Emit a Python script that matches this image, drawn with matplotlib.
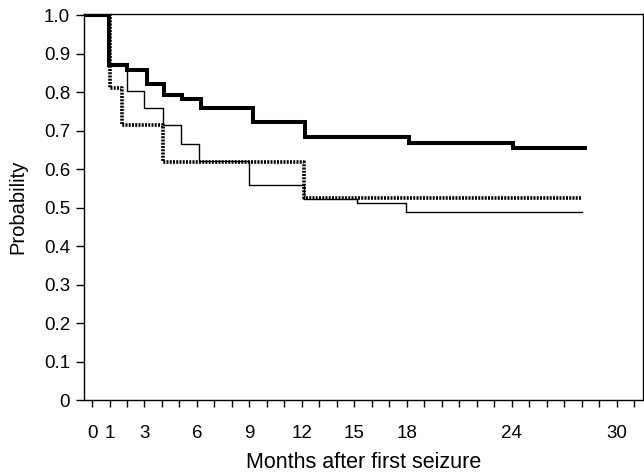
import numpy as np
import matplotlib
matplotlib.use('Agg')
import matplotlib.pyplot as plt

plt.rcParams['font.family'] = ['Liberation Sans', 'DejaVu Sans']

# Kaplan-Meier style curves (months, probability)
thick_t = [-0.36, 0.99, 1.98, 3.13, 4.11, 5.13, 6.23, 9.22, 12.17, 18.13, 24.07, 28.17]
thick_p = [1.0, 0.871, 0.857, 0.822, 0.792, 0.781, 0.759, 0.723, 0.684, 0.668, 0.654, 0.654]

thin_t = [-0.36, 0.99, 1.98, 2.99, 4.07, 5.09, 6.13, 8.99, 12.11, 15.13, 17.98, 28.04]
thin_p = [1.0, 0.871, 0.803, 0.759, 0.714, 0.665, 0.621, 0.558, 0.523, 0.513, 0.489, 0.489]

dot_t = [-0.36, 1.03, 1.70, 4.07, 12.11, 27.98]
dot_p = [1.0, 0.812, 0.714, 0.619, 0.526, 0.526]

x_labels = {0: '0', 1: '1', 3: '3', 6: '6', 9: '9', 12: '12', 15: '15',
            18: '18', 24: '24', 30: '30'}
y_ticks = [0, 0.1, 0.2, 0.3, 0.4, 0.5, 0.6, 0.7, 0.8, 0.9, 1.0]
y_labels = ['0', '0.1', '0.2', '0.3', '0.4', '0.5', '0.6', '0.7', '0.8', '0.9', '1.0']

fig = plt.figure(figsize=(6.44, 4.73), dpi=100)
ax = fig.add_axes([0.1304, 0.1543, 0.868, 0.8161])

ax.step(thin_t, thin_p, where='post', color='black', lw=1.0, zorder=3)
ax.step(dot_t, dot_p, where='post', color='black', lw=2.6,
        linestyle=(0, (0.55, 0.35)), dash_capstyle='butt', zorder=4)
ax.step(thick_t, thick_p, where='post', color='black', lw=2.9,
        solid_joinstyle='miter', zorder=5)

ax.set_xlim(-0.46, 31.5)
ax.set_ylim(0, 1.003)

months = np.arange(0, 32)
ax.set_xticks(months)
ax.set_xticklabels([x_labels.get(int(m), '') for m in months])
ax.set_yticks(y_ticks)
ax.set_yticklabels(y_labels)

ax.tick_params(axis='x', direction='out', length=5, width=1, pad=13, labelsize=13.5)
ax.tick_params(axis='y', direction='out', length=6, width=1, pad=4, labelsize=13.5)

for s in ax.spines.values():
    s.set_linewidth(1.0)

ax.set_xlabel('Months after first seizure', fontsize=15.5, labelpad=7)
ax.set_ylabel('Probability', fontsize=14.5, labelpad=12)

fig.savefig('out.png', dpi=100)
